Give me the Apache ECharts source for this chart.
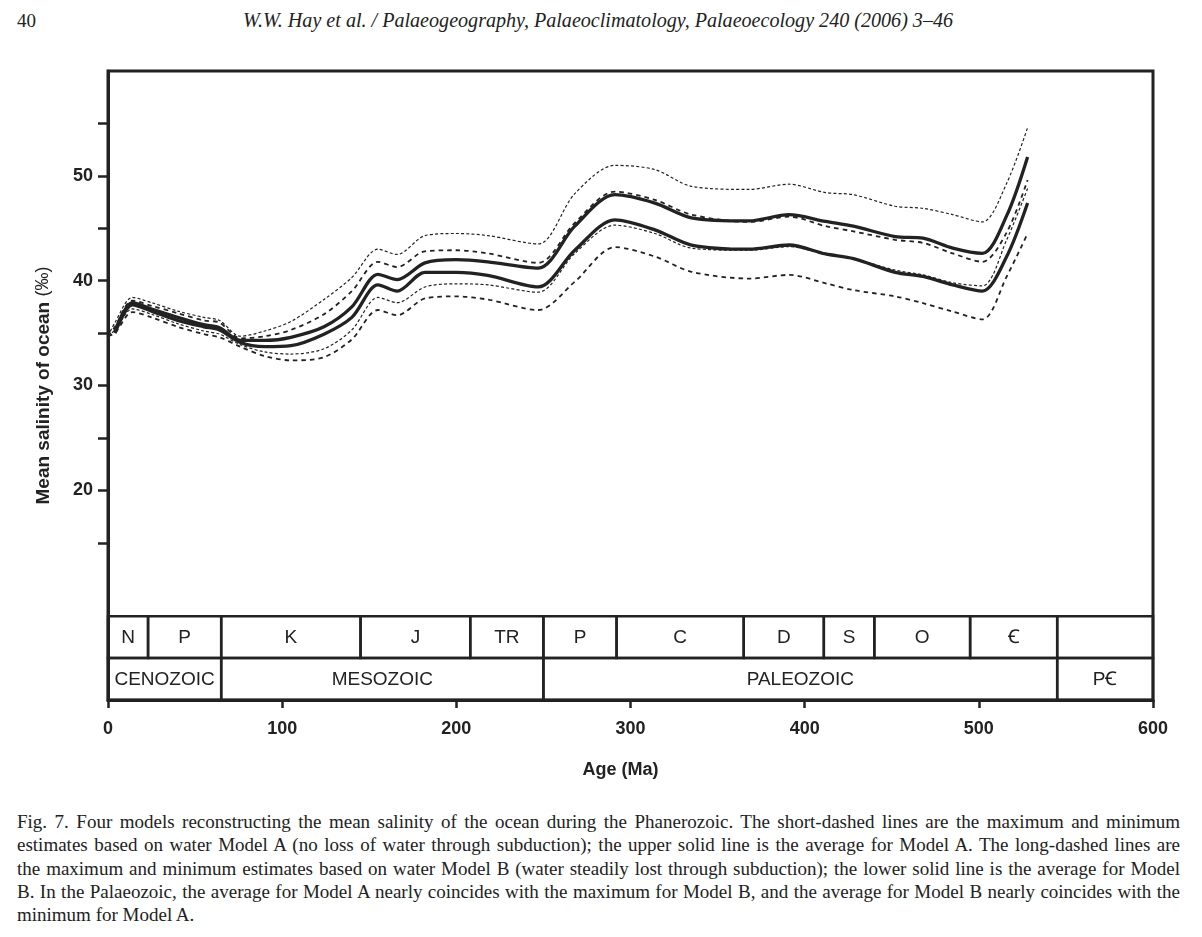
<!DOCTYPE html>
<html>
<head>
<meta charset="utf-8">
<script src="https://cdn.jsdelivr.net/npm/echarts@6/dist/echarts.min.js"></script>
<style>
  body { margin: 0; background: #fff; width: 1202px; height: 937px; position: relative; overflow: hidden; }
  .head { position: absolute; top: 10px; font-family: "Liberation Serif", serif; font-size: 19px; color: #222; }
  #chart { position: absolute; left: 0; top: 0; width: 1202px; height: 800px; }
  .caption { position: absolute; left: 17px; top: 810px; width: 1163px; font-family: "Liberation Serif", serif; font-size: 19px; line-height: 23.3px; color: #222; }
  .caption div { text-align: justify; text-align-last: justify; white-space: nowrap; }
  .caption div.last { text-align-last: left; }
</style>
</head>
<body>
<div class="head" style="left:17px;">40</div>
<div class="head" style="left:243px; font-style: italic; font-size: 20.1px; top: 9px;">W.W. Hay et al. / Palaeogeography, Palaeoclimatology, Palaeoecology 240 (2006) 3–46</div>
<div id="chart"></div>
<div class="caption">
  <div>Fig. 7. Four models reconstructing the mean salinity of the ocean during the Phanerozoic. The short-dashed lines are the maximum and minimum</div>
  <div>estimates based on water Model A (no loss of water through subduction); the upper solid line is the average for Model A. The long-dashed lines are</div>
  <div>the maximum and minimum estimates based on water Model B (water steadily lost through subduction); the lower solid line is the average for Model</div>
  <div>B. In the Palaeozoic, the average for Model A nearly coincides with the maximum for Model B, and the average for Model B nearly coincides with the</div>
  <div class="last">minimum for Model A.</div>
</div>
<script>
const ages = [0, 4, 14, 25, 40, 55, 64, 76, 90, 105, 124, 140, 155, 166, 182, 200, 218, 247, 268, 291, 314, 335, 368, 391, 412, 428, 452, 468, 485, 502, 516, 528];

// Model A (short dashes = max / min, solid = average)
const modelAMax = [34.7, 36.0, 38.4, 37.9, 37.1, 36.5, 36.2, 34.7, 35.2, 36.1, 38.2, 40.3, 43.0, 42.5, 44.3, 44.5, 44.3, 43.5, 48.3, 51.0, 50.6, 49.0, 48.7, 49.2, 48.4, 48.2, 47.1, 46.9, 46.3, 45.6, 49.3, 54.6];
const modelAAvg = [null, 35.2, 37.9, 37.3, 36.5, 35.8, 35.5, 34.3, 34.3, 34.6, 35.6, 37.5, 40.6, 40.1, 41.7, 42.0, 41.8, 41.2, 45.2, 48.2, 47.4, 46.0, 45.7, 46.3, 45.65, 45.2, 44.2, 44.05, 43.1, 42.6, 46.2, 51.8];
const modelAMin = [34.7, 35.3, 37.3, 36.8, 35.9, 35.2, 34.9, 33.9, 33.2, 33.0, 33.5, 35.3, 38.4, 37.9, 39.4, 39.7, 39.6, 38.9, 42.6, 45.3, 44.5, 43.1, 42.9, 43.25, 42.5, 42.1, 41.0, 40.55, 39.8, 39.5, 43.9, 48.8];

// Model B (long dashes = max / min, solid = average)
const modelBMax = [34.7, 35.6, 38.1, 37.6, 36.9, 36.2, 36.0, 34.5, 34.7, 35.3, 36.8, 39.0, 41.8, 41.3, 42.8, 42.9, 42.6, 41.7, 45.5, 48.5, 47.7, 46.3, 45.6, 46.1, 45.2, 44.7, 43.9, 43.6, 42.6, 41.8, 44.6, 49.6];
const modelBAvg = [null, 35.0, 37.7, 37.1, 36.2, 35.6, 35.3, 34.1, 33.7, 33.8, 34.9, 36.5, 39.6, 39.0, 40.8, 40.8, 40.5, 39.4, 42.9, 45.8, 44.85, 43.4, 43.0, 43.4, 42.55, 42.1, 40.8, 40.4, 39.6, 39.0, 42.3, 47.4];
const modelBMin = [34.7, 35.0, 37.0, 36.5, 35.6, 34.9, 34.6, 33.7, 32.8, 32.4, 32.7, 34.4, 37.2, 36.7, 38.3, 38.5, 38.2, 37.2, 39.9, 43.2, 42.3, 40.85, 40.2, 40.55, 39.75, 39.1, 38.5, 37.85, 37.05, 36.3, 40.4, 44.5];

// geologic time scale
const periodBounds = [0, 23, 65, 145, 208, 250, 292, 365, 411, 440, 495, 545, 600];
const periodLabels = ['N', 'P', 'K', 'J', 'TR', 'P', 'C', 'D', 'S', 'O', 'Ꞓ', ''];
const eraBounds = [0, 65, 250, 545, 600];
const eraLabels = ['CENOZOIC', 'MESOZOIC', 'PALEOZOIC', 'PꞒ'];

const yTickValues = [15, 20, 25, 30, 35, 40, 45, 50, 55];
const yLabelValues = [20, 30, 40, 50];

const toPairs = vals => ages.map((a, i) => [a, vals[i]]).filter(p => p[1] !== null);

const timeBoxes = [];
periodLabels.forEach((l, i) => timeBoxes.push([periodBounds[i], periodBounds[i + 1], 0]));
eraLabels.forEach((l, i) => timeBoxes.push([eraBounds[i], eraBounds[i + 1], 1]));
const boxLabels = periodLabels.concat(eraLabels);

const ink = '#222';

const chart = echarts.init(document.getElementById('chart'), null, { renderer: 'canvas' });

const shortDash = { color: ink, width: 1.2, type: [3, 2.2] };
const longDash = { color: ink, width: 1.8, type: [4.5, 4] };
const solid = { color: ink, width: 3.3, type: 'solid' };

const lineSeries = (name, vals, style, z) => ({
    name: name,
    type: 'line',
    data: toPairs(vals),
    smooth: 0.3,
    symbol: 'none',
    lineStyle: style,
    z: z,
    animation: false
});

const option = {
    animation: false,
    grid: {
        left: 108,
        right: 49,
        top: 71,
        bottom: 100,
        show: true,
        borderColor: ink,
        borderWidth: 3
    },
    xAxis: {
        type: 'value',
        min: 0,
        max: 600,
        interval: 100,
        name: 'Age (Ma)',
        nameLocation: 'middle',
        nameGap: 61,
        nameTextStyle: {
            fontFamily: 'Liberation Sans',
            fontWeight: 'bold',
            fontSize: 18,
            color: ink,
            padding: [0, 20, 0, 0]
        },
        axisLine: { show: true, lineStyle: { color: ink, width: 3 } },
        axisTick: { show: true, inside: false, length: 8, lineStyle: { color: ink, width: 2.5 } },
        axisLabel: {
            margin: 20,
            fontFamily: 'Liberation Sans',
            fontWeight: 'bold',
            fontSize: 18,
            color: ink
        },
        splitLine: { show: false }
    },
    yAxis: {
        type: 'value',
        min: 0,
        max: 60,
        interval: 5,
        name: '{b|Mean salinity of ocean }{n|(‰)}',
        nameLocation: 'middle',
        nameGap: 55,
        nameRotate: 90,
        nameTextStyle: {
            rich: {
                b: { fontFamily: 'Liberation Sans', fontWeight: 'bold', fontSize: 19, color: ink },
                n: { fontFamily: 'Liberation Sans', fontSize: 18, color: ink }
            }
        },
        axisLine: { show: true, lineStyle: { color: ink, width: 3 } },
        axisTick: { show: true, inside: false, length: 10, customValues: yTickValues, lineStyle: { color: ink, width: 2.5 } },
        axisLabel: {
            customValues: yLabelValues,
            margin: 15,
            fontFamily: 'Liberation Sans',
            fontWeight: 'bold',
            fontSize: 18,
            color: ink
        },
        splitLine: { show: false }
    },
    series: [
        lineSeries('Model A maximum', modelAMax, shortDash, 2),
        lineSeries('Model A minimum', modelAMin, shortDash, 2),
        lineSeries('Model B maximum', modelBMax, longDash, 2),
        lineSeries('Model B minimum', modelBMin, longDash, 2),
        lineSeries('Model A average', modelAAvg, solid, 3),
        lineSeries('Model B average', modelBAvg, solid, 3),
        {
            name: 'Time scale',
            type: 'custom',
            data: timeBoxes,
            z: 4,
            clip: false,
            renderItem: function (params, api) {
                const row = api.value(2);
                const top = row === 0 ? 8 : 4;
                const bottom = row === 0 ? 4 : 0;
                const p1 = api.coord([api.value(0), top]);
                const p2 = api.coord([api.value(1), bottom]);
                return {
                    type: 'group',
                    children: [
                        {
                            type: 'rect',
                            shape: { x: p1[0], y: p1[1], width: p2[0] - p1[0], height: p2[1] - p1[1] },
                            style: { fill: 'none', stroke: ink, lineWidth: 2.5 }
                        },
                        {
                            type: 'text',
                            style: {
                                text: boxLabels[params.dataIndex],
                                x: (p1[0] + p2[0]) / 2,
                                y: (p1[1] + p2[1]) / 2 + 1,
                                align: 'center',
                                verticalAlign: 'middle',
                                font: '19px "Liberation Sans", "DejaVu Sans", sans-serif',
                                fill: ink
                            }
                        }
                    ]
                };
            }
        }
    ]
};

chart.setOption(option);
</script>
</body>
</html>
